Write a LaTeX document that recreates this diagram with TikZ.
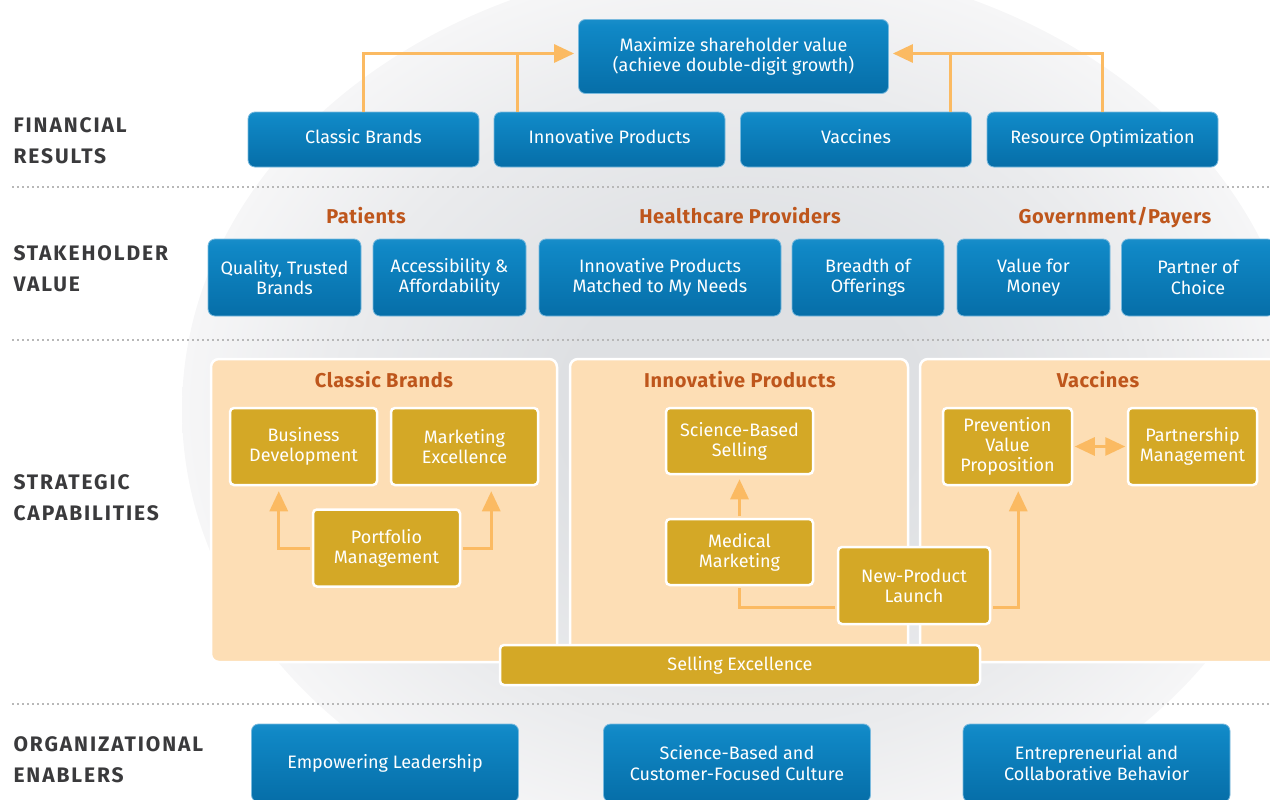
\documentclass[tikz,border=0pt]{standalone}
\usepackage{fontspec}
\setmainfont{Fira Sans}
\newfontfamily\rowfont[LetterSpace=9]{Fira Sans}
\newfontfamily\headfont[LetterSpace=3]{Fira Sans}
\usetikzlibrary{arrows.meta,positioning,calc}
\definecolor{corpblue}    {RGB}{16,136,198}
\definecolor{corpbluemid} {RGB}{6,110,168}
\definecolor{corpbluetop} {RGB}{116,190,228}
\definecolor{corpblueglo} {RGB}{44,154,210}
\definecolor{corpbluelow} {RGB}{0,82,134}
\definecolor{corpedge}    {RGB}{122,186,222}
\definecolor{corpgold}    {RGB}{212,168,38}
\definecolor{corppeach}   {RGB}{253,222,181}
\definecolor{corparrow}   {RGB}{251,186,98}
\definecolor{corprust}    {RGB}{190,86,28}
\definecolor{corpgray}    {RGB}{58,58,60}
\definecolor{corpglowin}  {RGB}{222,224,227}
\definecolor{corpglowmid} {RGB}{234,235,237}
\definecolor{corpglowout} {RGB}{246,246,247}
\pgfdeclareverticalshading{bluegloss}{100bp}{%
  color(0bp)=(corpbluelow); color(25bp)=(corpbluemid);
  color(70bp)=(corpblue); color(86bp)=(corpblueglo);
  color(100bp)=(corpbluetop)}
% the path's edge sits at 25bp of a radial shading
\pgfdeclareradialshading{backglow}{\pgfpoint{0bp}{0bp}}{%
  color(0bp)=(corpglowin); color(8bp)=(corpglowin);
  color(18bp)=(corpglowmid); color(25bp)=(corpglowout);
  color(50bp)=(corpglowout)}

\begin{document}
\begin{tikzpicture}[x=1pt,y=-1pt,
  >={Triangle[length=20pt,width=18pt]},
  bluebox/.style={rounded corners=7pt,draw=corpedge,line width=0.8pt,
                  shade,shading=bluegloss,text=white,align=center,
                  inner sep=0pt,font=\fontsize{18}{20.5}\selectfont},
  finbox/.style={bluebox,minimum width=231pt,minimum height=55pt,
                 text height=12.5pt,text depth=4pt},
  valbox/.style={bluebox,minimum width=153pt,minimum height=77pt},
  enbox/.style={bluebox,minimum width=267pt,minimum height=78pt},
  panel/.style={fill=corppeach,draw=white,line width=2.5pt,
                rounded corners=8pt,minimum height=303pt},
  capbox/.style={fill=corpgold,draw=white,line width=2.5pt,
                 rounded corners=4pt,text=white,align=center,inner sep=0pt,
                 minimum width=147pt,minimum height=77pt,
                 font=\fontsize{18}{20}\selectfont},
  heading/.style={anchor=base,text=corprust,
                  font=\headfont\bfseries\fontsize{20}{22}\selectfont},
  rowlabel/.style={anchor=west,align=left,text=corpgray,
                   font=\rowfont\bfseries\fontsize{21}{31}\selectfont},
  flow/.style={corparrow,line width=3pt},
  sep/.style={black!28,line width=1.6pt,dash pattern=on 1.6pt off 3.4pt},
]

\clip (0,0) rectangle (1270,800);

%% ── Backdrop glow and row separators ───────────────────────────────────────
\shade[shading=backglow] (742,410) ellipse [x radius=560pt, y radius=450pt];
\foreach \y in {187,340,704}
  \draw[sep] (12,\y) -- (1270,\y);

%% ── Row labels ─────────────────────────────────────────────────────────────
\node[rowlabel] (lblfin)   at (10,140.5) {FINANCIAL\\RESULTS};
\node[rowlabel] (lblstake) at (10,268.5) {STAKEHOLDER\\VALUE};
\node[rowlabel] (lblcap)   at (10,497.5) {STRATEGIC\\CAPABILITIES};
\node[rowlabel] (lblorg)   at (10,760)   {ORGANIZATIONAL\\ENABLERS};

%% ── Financial results ──────────────────────────────────────────────────────
\node[bluebox,minimum width=310pt,minimum height=74pt] (goal) at (733.5,56.5)
  {Maximize shareholder value\\(achieve double-digit growth)};

\node[finbox] (fincb)  at (363.5,139.5)  {Classic Brands};
\node[finbox] (finip)  at (609.5,139.5)  {Innovative Products};
\node[finbox] (finvac) at (856,139.5)    {Vaccines};
\node[finbox] (finro)  at (1102.5,139.5) {Resource Optimization};

\coordinate (goalin)  at ([yshift=3pt]goal.west);
\coordinate (goalout) at ([yshift=3pt]goal.east);

\draw[flow,->,shorten >=4pt] (fincb.north) |- (goalin);
\draw[flow] ([xshift=24pt]finip.north west) -- ([xshift=24pt]finip.north west |- goalin);
\draw[flow,->,shorten >=4pt] (finro.north) |- (goalout);
\draw[flow] ([xshift=-21pt]finvac.north east) -- ([xshift=-21pt]finvac.north east |- goalout);

%% ── Stakeholder value ──────────────────────────────────────────────────────
\node[heading] (hpat) at (366,223)  {Patients};
\node[heading] (hhcp) at (740,223)  {Healthcare Providers};
\node[heading] (hgov) at (1115,223) {Government/Payers};

\node[valbox] (valqual)  at (284.5,277.5)  {Quality, Trusted\\Brands};
\node[valbox] (valacc)   at (449.5,277.5)  {Accessibility \&\\Affordability};
\node[valbox,minimum width=242pt] (valinno) at (660,277.5)
  {Innovative Products\\Matched to My Needs};
\node[valbox,minimum width=152pt] (valbrd) at (868,277.5) {Breadth of\\Offerings};
\node[valbox] (valmoney) at (1033.5,277.5) {Value for\\Money};
\node[valbox] (valpart)  at (1198,277.5)   {Partner of\\Choice};

%% ── Strategic capabilities: panels ─────────────────────────────────────────
\node[panel,minimum width=346pt] (pancb)  at (384,510.5)  {};
\node[panel,minimum width=338pt] (panip)  at (739,510.5)  {};
\node[panel,minimum width=362pt] (panvac) at (1101,510.5) {};

\node[heading] (tcb)  at (384,387)  {Classic Brands};
\node[heading] (tip)  at (740,387)  {Innovative Products};
\node[heading] (tvac) at (1098,387) {Vaccines};

%% ── Strategic capabilities: boxes ──────────────────────────────────────────
\node[capbox] (bizdev) at (303.5,446.5) {Business\\Development};
\node[capbox] (mktex)  at (464.5,446.5) {Marketing\\Excellence};
\node[capbox] (portf)  at (386.5,548)   {Portfolio\\Management};

\node[capbox,minimum height=66pt] (scisell) at (739.5,441) {Science-Based\\Selling};
\node[capbox,minimum height=66pt] (medmkt)  at (739.5,552) {Medical\\Marketing};
\node[capbox,minimum width=152pt] (launch)  at (914,585.5) {New-Product\\Launch};

\node[capbox,minimum width=129pt] (prevval)  at (1007.5,446.5) {Prevention\\Value\\Proposition};
\node[capbox,minimum width=129pt] (partmgmt) at (1192.5,446.5) {Partnership\\Management};

\node[capbox,minimum width=480pt,minimum height=40pt] (sellex) at (740,665)
  {Selling Excellence};

%% ── Capability links ───────────────────────────────────────────────────────
\draw[flow,->,shorten <=1.5pt,shorten >=5pt] (portf.west) -| ([xshift=50pt]bizdev.south west);
\draw[flow,->,shorten <=1.5pt,shorten >=5pt] (portf.east) -| ([xshift=-48pt]mktex.south east);
\draw[flow,->,shorten <=1.5pt,shorten >=4pt] (medmkt.north) -- (scisell.south);
\draw[flow,shorten <=1.5pt,shorten >=1.5pt] ([yshift=-21.5pt]launch.west) -| (medmkt.south);
\draw[flow,->,shorten <=1.5pt,shorten >=5pt] ([yshift=-21.5pt]launch.east) -| ([xshift=-55pt]prevval.south east);
\draw[flow,<->,shorten <=1.5pt,shorten >=1.5pt] (prevval.east) -- (partmgmt.west);

%% ── Organizational enablers ────────────────────────────────────────────────
\node[enbox] (enlead)    at (385,763)    {Empowering Leadership};
\node[enbox] (enculture) at (737,763)    {Science-Based and\\Customer-Focused Culture};
\node[enbox] (enbehav)   at (1096.5,763) {Entrepreneurial and\\Collaborative Behavior};

\end{tikzpicture}
\end{document}
